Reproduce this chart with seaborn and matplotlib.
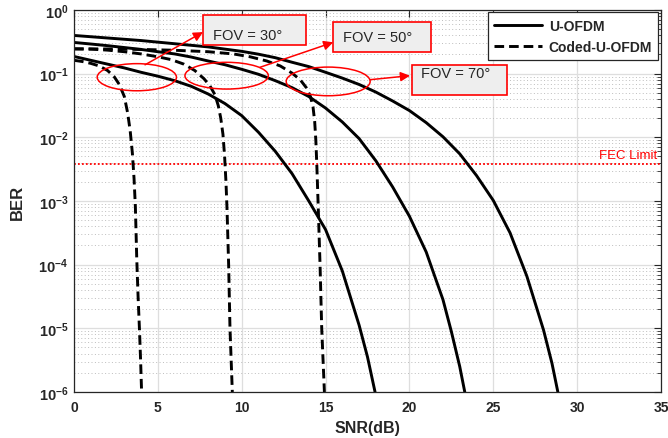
import matplotlib
matplotlib.use("Agg")
import matplotlib.pyplot as plt
from matplotlib.patches import Ellipse, Rectangle
from matplotlib.lines import Line2D
from matplotlib.ticker import LogLocator, NullFormatter, FixedLocator, FuncFormatter
import numpy as np
import pandas as pd
import seaborn as sns

# ---- BER curves (SNR in dB) ----
snr_ofdm_30 = [0, 1, 2, 3, 4, 5, 6, 7, 8, 9, 10, 11, 12, 13, 14, 15, 16, 17, 17.5, 17.95]
ber_ofdm_30 = [0.186, 0.162, 0.141, 0.123, 0.105, 0.0912, 0.0776, 0.0631, 0.0479, 0.0339,
               0.0219, 0.0120, 6.03e-3, 2.69e-3, 1.0e-3, 3.55e-4, 7.94e-5, 1.12e-5, 3.55e-6, 1.0e-6]

snr_ofdm_50 = [0, 1, 2, 3, 4, 5, 6, 7, 8, 9, 10, 11, 12, 13, 14, 15, 16, 17, 18, 19, 20, 21,
               22, 22.5, 23, 23.3]
ber_ofdm_50 = [0.309, 0.292, 0.275, 0.257, 0.240, 0.221, 0.204, 0.182, 0.158, 0.138, 0.117,
               0.0977, 0.0776, 0.0603, 0.0437, 0.0288, 0.0174, 9.55e-3, 4.27e-3, 1.66e-3,
               5.75e-4, 1.58e-4, 2.82e-5, 8.91e-6, 2.51e-6, 1.0e-6]

snr_ofdm_70 = [0, 2, 4, 6, 8, 10, 11, 12, 13, 14, 15, 16, 17, 18, 19, 20, 21, 22, 23, 24, 25,
               26, 27, 28, 28.5, 28.85]
ber_ofdm_70 = [0.398, 0.363, 0.331, 0.295, 0.263, 0.224, 0.202, 0.178, 0.151, 0.129, 0.105,
               0.0851, 0.0676, 0.0513, 0.0372, 0.0263, 0.0170, 0.0102, 5.5e-3, 2.51e-3,
               1.02e-3, 3.16e-4, 6.61e-5, 9.33e-6, 2.82e-6, 1.0e-6]

snr_coded_30 = [0, 0.5, 1, 1.5, 2, 2.4, 2.7, 3.0, 3.2, 3.35, 3.48, 3.58, 3.66, 3.74, 3.82,
                3.9, 3.97, 4.03]
ber_coded_30 = [0.162, 0.155, 0.145, 0.132, 0.112, 0.0891, 0.0676, 0.0437, 0.0240, 0.0126,
                5.62e-3, 2.24e-3, 7.94e-4, 1.26e-4, 3.16e-5, 1e-5, 3.16e-6, 1e-6]

snr_coded_50 = [0, 1, 2, 3, 4, 5, 5.8, 6.55, 7.2, 7.75, 8.1, 8.4, 8.6, 8.75, 8.88, 8.98, 9.06,
                9.12, 9.22, 9.3, 9.44]
ber_coded_50 = [0.245, 0.243, 0.234, 0.221, 0.204, 0.184, 0.166, 0.141, 0.112, 0.0832, 0.0646,
                0.0468, 0.0316, 0.02, 0.0112, 5.01e-3, 2.0e-3, 7.94e-4, 1e-4, 1e-5, 1e-6]

snr_coded_70 = [0, 2, 4, 6, 8, 9.5, 10.5, 11.5, 12.3, 13, 13.5, 13.85, 14.1, 14.25, 14.35,
                14.42, 14.48, 14.55, 14.67, 14.77, 14.93]
ber_coded_70 = [0.245, 0.244, 0.240, 0.233, 0.221, 0.204, 0.184, 0.158, 0.132, 0.102, 0.0794,
                0.0603, 0.0437, 0.0302, 0.0178, 8.91e-3, 3.55e-3, 1e-3, 1e-4, 1e-5, 1e-6]

schemes = ["U-OFDM", "Coded-U-OFDM"]
fov_labels = ["FOV = 30°", "FOV = 50°", "FOV = 70°"]
fec_limit = 3.8e-3
x_ticks = [0, 5, 10, 15, 20, 25, 30, 35]
y_ticks = [1e-6, 1e-5, 1e-4, 1e-3, 1e-2, 1e-1, 1e0]

curves = [
    ("U-OFDM", 30, snr_ofdm_30, ber_ofdm_30),
    ("U-OFDM", 50, snr_ofdm_50, ber_ofdm_50),
    ("U-OFDM", 70, snr_ofdm_70, ber_ofdm_70),
    ("Coded-U-OFDM", 30, snr_coded_30, ber_coded_30),
    ("Coded-U-OFDM", 50, snr_coded_50, ber_coded_50),
    ("Coded-U-OFDM", 70, snr_coded_70, ber_coded_70),
]
df = pd.concat(
    [pd.DataFrame({"snr": s, "ber": b, "scheme": sc, "curve": f"{sc}-{fov}"})
     for sc, fov, s, b in curves],
    ignore_index=True,
)

sns.set_style("white")
plt.rcParams["font.family"] = ["Liberation Sans", "DejaVu Sans"]
plt.rcParams["mathtext.fontset"] = "custom"
plt.rcParams["mathtext.rm"] = "Liberation Sans"
plt.rcParams["mathtext.bf"] = "Liberation Sans:bold"

fig = plt.figure(figsize=(6.68, 4.39), dpi=100)
ax = fig.add_axes([0.1108, 0.1048, 0.8787, 0.8702])

dash_pattern = (3.3, 1.7)
sns.lineplot(data=df, x="snr", y="ber", style="scheme", units="curve", estimator=None,
             dashes={"U-OFDM": "", "Coded-U-OFDM": dash_pattern},
             color="black", linewidth=2.1, sort=False, legend=False, ax=ax)

ax.set_yscale("log")
ax.set_xlim(0, 35)
ax.set_ylim(1e-6, 1)

# grid: light solid major lines, dotted minor lines on the BER axis
ax.xaxis.set_major_locator(FixedLocator(x_ticks))
ax.yaxis.set_major_locator(FixedLocator(y_ticks))
ax.yaxis.set_minor_locator(LogLocator(base=10, subs=np.arange(2, 10)))
ax.yaxis.set_minor_formatter(NullFormatter())
ax.yaxis.set_major_formatter(FuncFormatter(
    lambda v, p: r"$\mathbf{10^{%d}}$" % int(round(np.log10(v)))))
ax.xaxis.set_major_formatter(FuncFormatter(lambda v, p: f"{int(v)}"))
ax.grid(True, which="major", color="#dedede", linewidth=0.9, linestyle="-")
ax.grid(True, which="minor", axis="y", color="#bdbdbd", linewidth=0.7, linestyle=(0, (1, 2.5)))
ax.set_axisbelow(True)

ax.tick_params(which="both", direction="in", top=True, right=True, colors="#262626")
ax.tick_params(which="major", length=5, width=0.8)
ax.tick_params(which="minor", length=3, width=0.6)
ax.tick_params(axis="x", which="major", labelsize=10, pad=6)
ax.tick_params(axis="y", which="major", labelsize=10.5, pad=4)
for lab in ax.get_xticklabels():
    lab.set_fontweight("bold")
for sp in ax.spines.values():
    sp.set_color("#262626")
    sp.set_linewidth(0.9)

ax.set_xlabel("SNR(dB)", fontsize=11.5, fontweight="bold", color="#262626", labelpad=4)
ax.set_ylabel("BER", fontsize=12, fontweight="bold", color="#262626", labelpad=10)

# FEC threshold
ax.axhline(fec_limit, color="red", linestyle=(0, (1, 1.2)), linewidth=1.3, zorder=1.5)
ax.annotate("FEC Limit", xy=(34.8, fec_limit), xytext=(0, 2.5), textcoords="offset points",
            ha="right", va="bottom", color="red", fontsize=9.5)

# ellipses marking each FOV group (axes-fraction coordinates)
for cx, cy, w, h in [(0.107, 0.824, 0.135, 0.071),
                     (0.260, 0.828, 0.142, 0.070),
                     (0.433, 0.813, 0.143, 0.075)]:
    ax.add_patch(Ellipse((cx, cy), w, h, transform=ax.transAxes, fill=False,
                         edgecolor="red", linewidth=1.1, zorder=4))

# labelled boxes and arrows
boxes = [(0.2203, 0.9092, 0.1749, 0.0777, 0.2368, 0.9351),
         (0.4417, 0.8906, 0.1660, 0.0788, 0.4588, 0.9301),
         (0.5753, 0.7783, 0.1629, 0.0785, 0.5906, 0.8358)]
for (x0, y0, w, h, tx, ty), label in zip(boxes, fov_labels):
    ax.add_patch(Rectangle((x0, y0), w, h, transform=ax.transAxes, facecolor="#eeeeee",
                           edgecolor="red", linewidth=1.2, zorder=5, clip_on=False))
    ax.text(tx, ty, label, transform=ax.transAxes, ha="left", va="center",
            fontsize=10.5, color="#262626", zorder=6)

arrows = [((0.1210, 0.8565), (0.2198, 0.9421)),
          ((0.3169, 0.8500), (0.4417, 0.9154)),
          ((0.5043, 0.8175), (0.5724, 0.8280))]
for start, end in arrows:
    ax.annotate("", xy=end, xytext=start, xycoords="axes fraction", textcoords="axes fraction",
                arrowprops=dict(arrowstyle="-|>", color="red", lw=1.1, mutation_scale=14,
                                shrinkA=0, shrinkB=0), zorder=6)

handles = [Line2D([], [], color="black", linewidth=2.1),
           Line2D([], [], color="black", linewidth=2.1, dashes=dash_pattern)]
leg = ax.legend(handles, schemes, loc="upper right", bbox_to_anchor=(0.9954, 0.994),
                borderaxespad=0, frameon=True, fancybox=False, edgecolor="#262626",
                framealpha=1, handlelength=3.4, handletextpad=0.5, borderpad=0.45,
                labelspacing=0.55, prop={"weight": "bold", "size": 10})
leg.get_frame().set_linewidth(0.9)
leg.set_zorder(7)

fig.savefig("out.png", dpi=100)
